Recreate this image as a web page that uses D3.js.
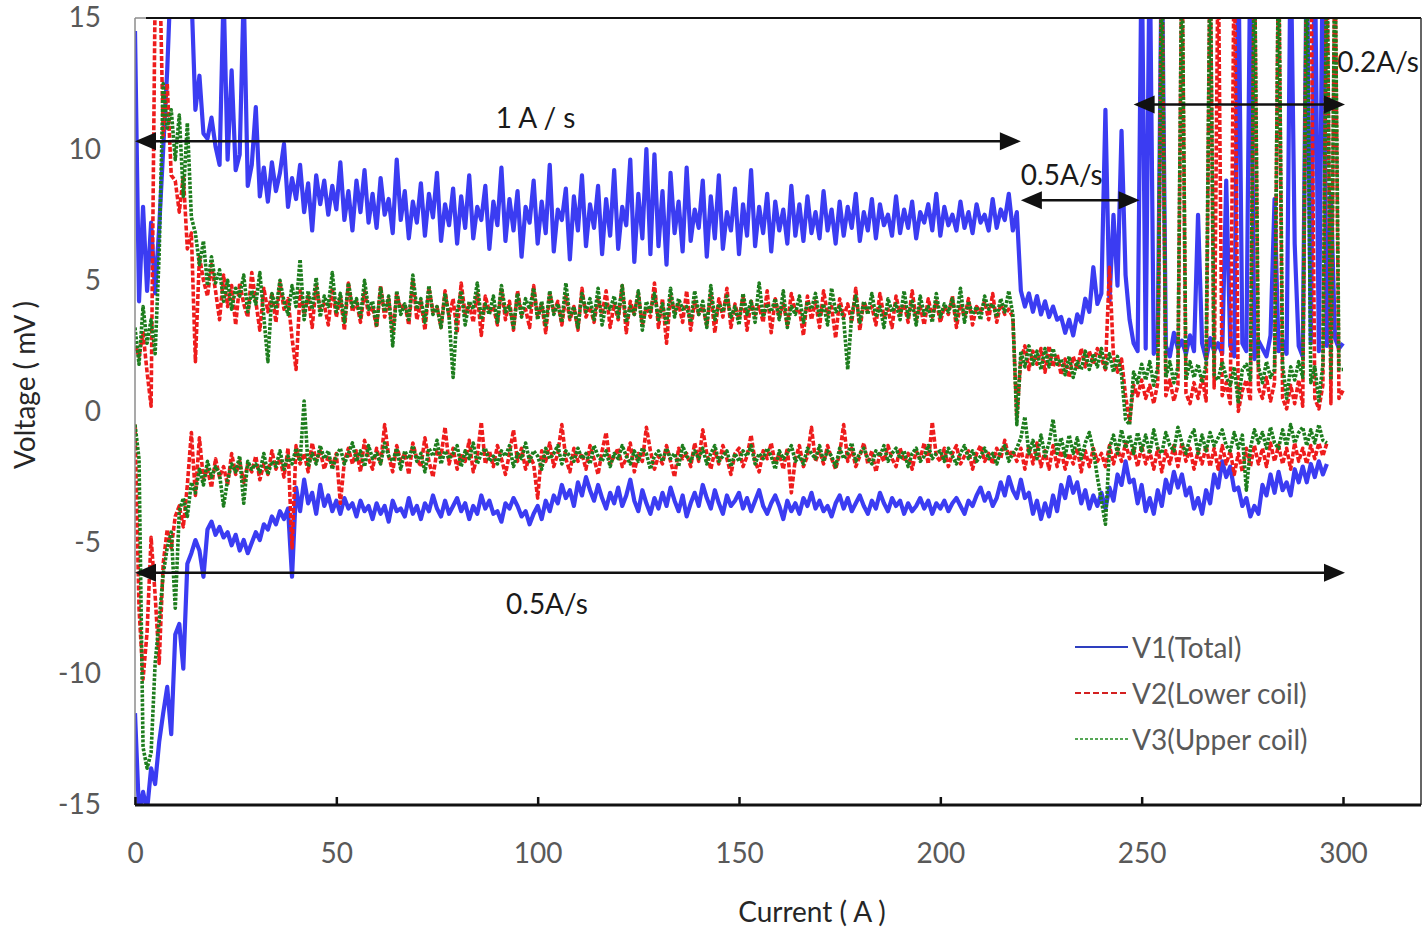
<!DOCTYPE html>
<html><head><meta charset="utf-8">
<script src="https://cdn.jsdelivr.net/npm/d3@7"></script>
<style>body{margin:0;background:#fff}svg{display:block}</style>
</head><body>
<script>
const currentStepA = 1;
const seriesNames = ["V1(Total)", "V2(Lower coil)", "V3(Upper coil)"];
const xTicks = [0, 50, 100, 150, 200, 250, 300];
const yTicks = [-15, -10, -5, 0, 5, 10, 15];

// ramp-up branch (upper traces), 0..300 A
const v1Up = [
14.5,4.2,7.8,4.6,7.2,4.5,7,10,13,17,
16,18,15.5,17,16,11.5,12.8,10.6,10.4,11.2,
10.1,9.4,16,9.6,13,9.2,9.8,16,8.6,9.4,
11.6,8.2,9.3,8.0,9.5,8.4,9.1,10.2,7.8,8.9,
8.1,9.4,7.6,8.7,6.9,9.0,7.9,8.8,7.5,8.6,
7.7,9.5,7.3,8.4,6.9,8.8,7.6,9.2,7.2,8.3,
7.0,8.9,7.5,8.1,6.8,9.6,7.3,8.4,6.6,8.0,
7.2,8.7,6.7,8.3,7.4,9.1,6.5,7.9,7.1,8.5,
6.4,8.2,7.0,9.0,6.6,7.8,7.3,8.6,6.2,8.0,
7.1,9.3,6.5,8.1,6.9,8.4,5.9,7.8,7.2,8.8,
6.4,8.0,6.8,9.4,6.1,7.7,7.3,8.5,5.8,8.2,
6.9,9.0,6.3,7.9,7.0,8.6,6.0,8.1,6.7,9.2,
6.2,7.8,7.1,9.6,5.7,8.3,6.6,10.0,6.0,9.8,
6.3,8.4,5.6,9.1,6.8,8.0,6.1,9.3,6.5,7.7,
7.0,8.8,5.9,8.2,6.6,9.0,6.2,7.6,6.9,8.5,
6.0,7.9,6.7,9.2,6.3,7.8,6.8,8.3,6.1,8.0,
6.9,7.7,6.4,8.6,6.7,7.9,6.5,8.2,6.8,7.6,
6.6,8.4,6.9,7.7,6.4,8.0,6.7,7.8,7.0,8.3,
6.5,7.6,6.9,8.1,6.6,7.9,7.1,7.5,6.7,8.2,
6.8,7.7,7.0,8.0,6.6,7.6,7.2,7.9,6.9,8.3,
6.7,7.8,7.1,7.5,6.9,8.0,7.0,7.6,6.8,7.9,
7.2,7.5,6.9,8.1,7.0,7.7,7.3,8.3,6.9,7.6,
4.6,4.0,4.5,3.8,4.4,3.7,4.2,3.6,4.0,3.5,
3.6,3.0,3.5,2.9,3.7,3.4,4.3,3.8,5.5,4.1,
4.5,11.5,4.2,7.5,4.8,10.7,5.2,3.5,2.6,2.3,
18,2.4,18,2.2,2.8,18,2.5,2.1,3.0,2.4,
2.7,2.2,2.9,2.3,7.5,2.6,2.0,2.8,2.3,2.6,
2.2,8.8,2.5,2.1,18,2.6,2.3,18,2.0,2.7,
2.4,2.1,2.9,8.1,2.3,2.7,2.2,18,6.4,2.5,
2.1,18,2.6,18,2.3,18,2.5,8.3,2.8,2.4,
2.6];
const v2Up = [
2.5,2.1,3.0,1.5,0.2,16,18,10.5,12.5,9.0,
8.8,7.6,9.0,6.2,6.8,1.9,5.9,5.0,4.4,5.6,
4.6,3.5,5.2,4.0,4.8,3.3,4.9,4.1,3.6,5.3,
4.2,3.1,4.7,3.8,4.5,3.4,4.9,3.9,4.3,2.8,
1.6,4.6,3.7,4.4,3.2,4.8,3.9,4.1,3.3,4.7,
3.6,4.4,3.1,4.9,3.8,4.2,3.4,4.6,3.7,4.0,
3.2,4.8,3.6,4.3,3.0,4.5,3.9,4.1,3.3,5.0,
3.5,4.2,3.1,4.7,3.8,4.0,3.2,4.6,3.6,4.3,
3.0,4.9,3.7,4.1,3.4,4.5,2.9,4.4,3.8,4.0,
3.3,4.7,3.5,4.2,3.1,4.6,3.7,3.9,3.2,4.8,
3.6,4.1,3.0,4.5,3.8,4.2,3.3,4.4,3.5,4.0,
3.1,4.7,3.6,4.0,3.4,4.3,3.7,4.6,3.2,4.1,
3.5,4.8,3.0,4.2,3.7,4.5,3.3,4.0,3.6,4.9,
3.2,4.3,2.6,4.4,3.8,4.1,3.4,4.6,3.1,4.2,
3.7,4.0,3.3,4.5,3.0,4.3,3.6,4.7,3.2,4.1,
3.5,4.4,3.1,4.2,3.7,4.0,3.4,4.6,3.0,4.3,
3.6,4.1,3.3,4.5,3.8,3.9,2.9,4.4,3.5,4.2,
3.2,4.6,3.7,4.0,2.8,4.3,3.6,4.1,3.4,4.7,
3.1,4.2,3.8,4.0,3.3,4.5,3.6,3.9,3.2,4.4,
3.7,4.1,3.4,4.6,3.5,4.0,3.3,4.3,3.6,4.2,
3.4,4.0,3.7,4.4,3.2,4.1,3.6,4.3,3.3,4.0,
3.8,4.2,3.5,4.5,3.4,4.1,3.7,3.9,3.6,-0.2,
2.0,2.5,1.6,2.3,1.8,2.4,1.5,2.5,1.7,2.2,
1.4,2.0,1.3,2.1,1.6,2.4,1.7,2.3,1.8,2.4,
2.0,1.6,5.5,2.1,1.5,2.0,0.6,-0.4,1.0,0.6,
1.2,0.5,1.0,0.3,1.1,18,0.6,1.2,0.4,1.0,
18,0.7,0.3,1.1,0.5,1.3,0.4,18,0.9,18,
0.6,1.1,0.3,18,0.0,0.8,1.2,0.4,18,0.9,
0.5,1.3,0.4,1.1,18,0.5,0.1,1.0,0.3,1.2,
0.2,18,18,0.5,0.1,1.0,18,0.3,18,0.5,
0.8];
const v3Up = [
3.2,1.8,4.0,2.6,3.5,2.2,6.0,12.5,10.8,11.5,
9.6,11.3,8.2,11.0,7.4,6.8,5.6,6.5,4.8,5.9,
4.9,5.4,4.2,5.0,3.9,4.7,4.4,5.2,3.8,4.6,
4.1,5.3,3.6,1.9,4.5,3.9,5.0,4.2,3.7,4.8,
4.0,5.8,3.5,4.6,3.9,5.1,3.6,4.4,4.0,5.3,
3.8,4.5,3.4,4.9,4.0,4.3,3.6,5.0,3.9,4.2,
3.3,4.7,3.8,4.4,2.5,4.6,3.7,4.1,3.5,5.2,
3.9,4.3,3.4,4.8,3.7,4.0,3.2,4.5,3.6,1.3,
3.8,4.6,3.3,4.2,3.9,4.9,3.5,4.1,3.7,4.4,
3.4,4.8,3.8,4.0,3.2,4.5,3.6,4.3,3.9,4.7,
3.5,4.2,3.3,4.6,3.7,4.1,3.4,4.9,3.6,4.0,
3.2,4.5,3.8,4.3,3.5,4.7,3.3,4.1,3.9,4.4,
3.6,4.8,3.4,4.0,3.7,4.6,3.1,4.2,3.8,4.5,
3.5,4.1,3.3,4.7,3.6,4.3,3.9,4.0,3.4,4.6,
3.7,4.2,3.2,4.8,3.5,4.1,3.8,4.4,3.6,4.0,
3.3,4.5,3.7,4.2,3.4,4.9,3.6,4.1,3.8,4.3,
3.5,4.6,3.2,4.0,3.7,4.4,3.4,4.2,3.9,4.5,
3.6,4.1,3.3,4.7,3.8,4.0,3.5,1.6,3.7,4.4,
3.4,4.2,3.7,4.5,3.6,4.0,3.2,4.3,3.8,4.1,
3.5,4.6,3.6,4.2,3.3,4.4,3.7,4.0,3.4,4.5,
3.6,4.1,3.8,4.3,3.5,4.7,3.4,4.2,3.7,4.0,
3.5,4.4,3.9,4.1,3.6,4.3,3.8,4.6,3.7,-0.5,
2.3,1.7,2.5,1.8,2.3,1.6,2.4,1.7,2.4,1.8,
2.0,1.4,2.1,1.3,1.9,1.6,2.3,1.6,2.2,1.7,
2.4,1.6,2.2,1.5,2.1,1.4,-0.3,-0.5,1.5,1.1,
1.8,1.2,1.9,1.0,1.7,18,1.3,1.9,1.1,1.7,
18,1.2,1.9,1.3,1.8,1.1,1.8,18,1.4,1.2,
1.9,1.3,1.0,1.7,0.3,1.6,1.8,1.2,18,1.7,
1.1,1.9,1.3,1.6,18,1.8,0.5,1.7,1.2,1.9,
1.3,18,1.1,1.7,0.4,1.8,18,1.2,18,1.6,
1.6];

// second branch (lower traces), 0..296 A
const v1Down = [
-11.5,-15.3,-14.5,-15.2,-13.6,-14.2,-12.6,-11.5,-10.5,-12.3,
-8.5,-8.1,-9.8,-5.8,-5.4,-4.9,-5.3,-6.3,-4.5,-4.2,
-4.7,-4.4,-4.8,-4.6,-5.1,-4.7,-5.3,-4.9,-5.4,-5.0,
-4.6,-4.9,-4.3,-4.5,-4.0,-4.3,-3.8,-4.1,-3.7,-6.3,
-2.9,-3.8,-2.6,-3.5,-3.1,-3.9,-2.8,-3.6,-3.2,-3.8,
-3.4,-3.9,-3.3,-3.7,-3.5,-4.0,-3.4,-3.8,-3.6,-4.1,
-3.5,-3.9,-3.6,-4.2,-3.4,-3.8,-3.7,-4.0,-3.3,-3.9,
-3.6,-4.1,-3.5,-3.8,-3.2,-3.7,-4.0,-3.4,-3.9,-3.6,
-3.3,-3.8,-3.5,-4.1,-3.6,-3.9,-3.2,-3.7,-3.4,-3.9,
-3.8,-4.2,-3.5,-3.7,-3.3,-3.6,-4.0,-3.8,-4.3,-3.9,
-3.6,-4.1,-3.4,-3.8,-3.2,-3.5,-2.8,-3.3,-3.0,-3.6,
-2.7,-3.2,-2.5,-3.0,-3.4,-2.8,-3.3,-3.7,-3.1,-3.5,
-2.9,-3.6,-3.2,-2.6,-3.4,-3.8,-3.0,-3.5,-3.9,-3.3,
-3.7,-3.1,-3.6,-2.9,-3.4,-3.8,-3.2,-4.0,-3.5,-3.1,
-3.6,-2.8,-3.3,-3.7,-3.0,-3.5,-3.9,-3.2,-3.6,-3.4,
-3.1,-3.7,-3.3,-3.8,-3.4,-3.0,-3.6,-3.9,-3.5,-3.2,
-3.6,-4.1,-3.4,-3.8,-3.5,-3.9,-3.3,-3.6,-3.1,-3.7,
-3.4,-3.8,-3.6,-4.0,-3.5,-3.2,-3.7,-3.3,-3.8,-3.5,
-3.2,-3.6,-3.9,-3.4,-3.7,-3.1,-3.5,-3.8,-3.3,-3.6,
-3.4,-3.9,-3.5,-3.8,-3.6,-3.3,-3.7,-3.4,-3.9,-3.5,
-3.7,-3.4,-3.8,-3.5,-3.3,-3.6,-3.9,-3.4,-3.6,-3.2,
-2.9,-3.4,-3.1,-3.6,-3.3,-2.7,-3.2,-2.5,-3.0,-3.3,
-2.6,-3.3,-3.1,-3.9,-3.4,-4.1,-3.5,-4.0,-3.2,-3.8,
-2.8,-3.3,-2.5,-3.1,-2.7,-3.5,-3.0,-3.7,-3.2,-3.6,
-3.1,-3.7,-2.9,-3.4,-2.4,-2.8,-1.9,-2.7,-2.6,-3.5,
-2.8,-3.8,-3.3,-3.9,-3.0,-3.6,-2.6,-3.1,-2.3,-2.9,
-2.4,-3.2,-2.9,-3.7,-3.3,-3.9,-3.0,-3.5,-2.4,-2.9,
-1.9,-2.5,-2.1,-3.0,-2.9,-3.6,-3.3,-4.0,-3.6,-3.9,
-2.8,-3.2,-2.4,-3.1,-2.3,-3.0,-2.7,-3.2,-2.2,-2.7,
-2.1,-2.7,-2.0,-2.5,-1.9,-2.4,-2.0];
const v2Down = [
-0.5,-7.5,-10.2,-8.4,-4.8,-7.0,-9.6,-5.8,-4.5,-5.2,
-4.0,-3.6,-4.4,-2.8,-0.8,-3.2,-1.0,-2.6,-2.2,-2.9,
-1.8,-2.5,-2.1,-2.8,-1.6,-2.4,-1.9,-2.7,-2.0,-2.3,
-1.7,-2.6,-2.0,-2.4,-1.5,-2.2,-1.8,-2.5,-1.4,-5.2,
-1.3,-2.0,-1.6,-2.3,-1.2,-1.9,-1.5,-2.2,-1.7,-2.1,
-1.6,-3.5,-1.9,-1.4,-2.0,-1.5,-2.3,-1.1,-1.8,-2.2,
-1.4,-2.0,-0.5,-1.7,-2.3,-1.3,-1.9,-1.6,-2.4,-1.2,
-1.8,-2.1,-1.0,-1.9,-2.5,-1.5,-1.7,-0.6,-2.0,-1.4,
-2.2,-1.6,-1.9,-1.1,-2.3,-1.7,-0.4,-2.0,-1.5,-2.1,
-1.3,-1.8,-2.4,-1.6,-0.7,-1.9,-1.4,-2.2,-1.7,-2.0,
-3.3,-1.5,-1.9,-1.2,-2.1,-1.6,-0.5,-1.8,-2.3,-1.4,
-1.9,-1.6,-2.2,-1.3,-1.8,-2.4,-1.5,-0.8,-2.0,-1.7,
-1.4,-2.1,-1.8,-1.2,-2.3,-1.6,-1.9,-0.6,-1.5,-2.2,
-1.7,-2.0,-1.3,-1.9,-2.5,-1.4,-1.8,-1.6,-2.1,-1.2,
-1.9,-0.7,-1.6,-2.2,-1.5,-2.0,-1.3,-1.8,-2.4,-1.6,
-1.4,-2.1,-1.7,-0.9,-1.9,-2.3,-1.5,-1.8,-1.2,-2.0,
-1.6,-2.2,-1.4,-3.1,-1.8,-1.3,-2.1,-1.7,-0.6,-1.9,
-1.5,-2.0,-1.3,-1.8,-2.2,-1.6,-0.5,-1.9,-1.4,-2.1,
-1.7,-1.2,-2.0,-1.5,-2.3,-1.6,-1.9,-1.3,-1.8,-2.1,
-1.4,-1.9,-1.6,-2.2,-1.5,-1.8,-1.2,-2.0,-0.4,-1.7,
-1.9,-1.4,-2.1,-1.6,-1.3,-2.0,-1.7,-1.5,-2.2,-1.6,
-1.3,-1.9,-1.6,-2.0,-1.4,-1.8,-1.1,-1.7,-1.5,-1.9,
-1.4,-2.2,-1.3,-2.0,-1.2,-2.1,-1.5,-2.2,-1.3,-2.1,
-1.5,-2.2,-1.6,-2.0,-1.4,-2.3,-1.5,-2.1,-1.4,-1.9,
-1.6,-2.1,-1.3,-2.0,-1.4,-1.9,-1.2,-1.8,-1.4,-2.1,
-1.3,-2.0,-1.5,-2.2,-1.4,-2.3,-1.5,-2.0,-1.3,-2.1,
-1.2,-1.9,-1.4,-2.2,-1.5,-2.0,-1.3,-2.1,-1.4,-2.2,
-1.3,-2.0,-1.5,-2.4,-1.6,-2.3,-1.4,-2.1,-1.3,-2.0,
-1.4,-2.1,-1.2,-1.9,-1.3,-2.0,-1.4,-2.2,-1.2,-1.9,
-1.4,-2.0,-1.3,-1.8,-1.2,-1.7,-1.2];
const v3Down = [
-0.5,-1.8,-12.8,-13.6,-13.0,-9.6,-8.0,-6.2,-5.2,-4.6,
-7.5,-3.8,-3.3,-4.0,-2.7,-3.1,-2.2,-2.8,-1.9,-2.5,
-2.1,-2.4,-3.6,-2.6,-2.0,-2.3,-1.7,-3.5,-1.9,-2.2,
-2.0,-2.3,-1.6,-2.4,-1.9,-2.1,-1.5,-2.2,-1.7,-2.0,
-1.4,-1.9,0.4,-2.1,-1.6,-2.0,-1.3,-1.8,-1.5,-2.2,
-1.7,-1.4,-2.0,-1.6,-1.2,-1.9,-1.5,-2.1,-1.3,-1.8,
-1.6,-2.0,-1.2,-1.7,-1.9,-1.4,-2.2,-1.5,-1.8,-1.3,
-1.9,-1.6,-2.3,-1.4,-1.7,-1.1,-2.0,-1.5,-1.8,-1.6,
-1.3,-2.1,-1.5,-1.8,-1.2,-2.0,-1.6,-1.4,-1.9,-1.7,
-2.0,-1.5,-1.7,-1.3,-2.1,-1.6,-1.8,-1.2,-1.9,-1.5,
-1.7,-2.2,-1.4,-1.8,-1.6,-1.3,-2.0,-1.5,-1.7,-1.9,
-1.4,-1.8,-1.6,-2.0,-1.3,-1.7,-1.9,-1.5,-2.1,-1.6,
-1.8,-1.3,-1.7,-2.0,-1.5,-1.9,-1.4,-1.6,-2.2,-1.7,
-1.5,-1.9,-1.4,-1.8,-1.6,-2.1,-1.3,-1.7,-1.9,-1.5,
-1.8,-1.4,-2.0,-1.6,-1.3,-1.9,-1.7,-1.5,-2.1,-1.6,
-1.9,-1.5,-1.7,-1.3,-2.0,-1.6,-1.8,-1.4,-1.7,-2.2,
-1.5,-1.8,-1.6,-1.3,-1.9,-1.7,-2.0,-1.4,-1.6,-1.8,
-1.3,-1.9,-1.5,-1.7,-2.1,-1.4,-1.8,-1.6,-1.2,-1.9,
-1.6,-1.4,-1.8,-2.0,-1.5,-1.7,-1.3,-1.9,-1.6,-1.4,
-1.8,-1.5,-2.1,-1.6,-1.4,-1.9,-1.7,-1.3,-1.8,-1.6,
-1.5,-1.9,-1.4,-1.7,-2.0,-1.6,-1.3,-1.8,-1.5,-1.9,
-1.7,-1.4,-1.8,-1.6,-2.0,-1.5,-1.3,-1.9,-1.6,-1.4,
-1.0,-0.2,-1.6,-1.1,-1.8,-0.9,-1.7,-1.2,-0.3,-1.6,
-1.0,-1.7,-0.9,-1.6,-1.0,-1.8,-1.2,-0.8,-1.5,-2.5,
-3.4,-4.3,-1.4,-0.9,-1.6,-0.7,-1.4,-0.9,-1.6,-0.8,
-1.5,-0.9,-1.6,-0.7,-1.4,-1.6,-0.8,-1.3,-1.5,-0.6,
-1.2,-1.6,-1.0,-0.7,-1.6,-0.9,-1.5,-0.8,-1.3,-1.0,
-0.7,-1.3,-1.5,-0.8,-1.4,-0.9,-3.0,-1.4,-0.7,-1.2,
-0.8,-1.4,-0.6,-1.2,-1.4,-0.7,-1.3,-0.5,-1.2,-0.8,
-0.6,-1.3,-0.7,-1.2,-0.5,-1.1,-1.2];

// ramp-rate annotations (current range in A, level in mV)
const rateLabels = ["1 A / s", "0.5A/s", "0.2A/s", "0.5A/s"];
const rateFrom   = [0, 220, 248, 0];
const rateTo     = [220, 249.5, 300.5, 300.5];
const rateLevel  = [10.3, 8.05, 11.7, -6.15];

// ---------------- drawing ----------------
const W = 1424, H = 929;
const FONT = "Lato, 'Open Sans', sans-serif";
const svg = d3.select("body").append("svg").attr("width", W).attr("height", H);

const x = d3.scaleLinear().domain([0, 300]).range([135, 1343]);
const y = d3.scaleLinear().domain([-15, 15]).range([805, 18]);
const frameRight = 1421;

const colors = ["#3b3cf2", "#ee1c1c", "#1d7d1d"];
const dashes = [null, "5,2", "3,1.5"];
const widths = [4.2, 3.6, 3.6];

svg.append("clipPath").attr("id", "plotClip").append("rect")
  .attr("x", x(0)).attr("y", y(15)).attr("width", frameRight - x(0)).attr("height", y(-15) - y(15));

const line = d3.line()
  .defined(d => d != null)
  .x((d, i) => x(i * currentStepA))
  .y(d => y(d));

const plot = svg.append("g").attr("clip-path", "url(#plotClip)");
const traces = [
  [v1Down, 0], [v1Up, 0],
  [v2Down, 1], [v2Up, 1],
  [v3Down, 2], [v3Up, 2]
];
traces.forEach(([vals, k]) => {
  plot.append("path")
    .attr("d", line(vals))
    .attr("fill", "none")
    .attr("stroke", colors[k])
    .attr("stroke-width", widths[k])
    .attr("stroke-dasharray", dashes[k])
    .attr("stroke-linejoin", "round");
});

// frame
svg.append("line").attr("x1", x(0)).attr("x2", x(0)).attr("y1", y(15)).attr("y2", y(-15))
  .attr("stroke", "#8c8c8c").attr("stroke-width", 1.5);
svg.append("line").attr("x1", x(0)).attr("x2", 146).attr("y1", y(15)).attr("y2", y(15))
  .attr("stroke", "#8c8c8c").attr("stroke-width", 1.5);
svg.append("line").attr("x1", 146).attr("x2", frameRight).attr("y1", y(15)).attr("y2", y(15))
  .attr("stroke", "#111").attr("stroke-width", 2);
svg.append("line").attr("x1", frameRight).attr("x2", frameRight).attr("y1", y(15)).attr("y2", y(-15))
  .attr("stroke", "#333").attr("stroke-width", 1.5);

// x axis
const xAxis = d3.axisBottom(x).tickValues(xTicks).tickFormat(d => String(d))
  .tickSizeInner(-8).tickSizeOuter(0).tickPadding(38);
const gx = svg.append("g").attr("transform", `translate(0,${y(-15)})`).call(xAxis);
gx.select(".domain").remove();
gx.append("line").attr("x1", x(0)).attr("x2", frameRight).attr("y1", 0).attr("y2", 0)
  .attr("stroke", "#111").attr("stroke-width", 3);
gx.selectAll(".tick line").attr("stroke", "#111").attr("stroke-width", 2.5);
gx.selectAll(".tick text").attr("fill", "#595959").attr("font-size", 28).attr("font-family", FONT);

// y axis labels (no tick marks)
const yAxis = d3.axisLeft(y).tickValues(yTicks).tickFormat(d => String(d)).tickSize(0).tickPadding(34);
const gy = svg.append("g").attr("transform", `translate(${x(0)},0)`).call(yAxis);
gy.select(".domain").remove();
gy.selectAll(".tick text").attr("fill", "#595959").attr("font-size", 28).attr("font-family", FONT);

// axis titles
svg.append("text").attr("x", 812).attr("y", 922).attr("text-anchor", "middle")
  .attr("font-family", FONT).attr("font-size", 28).attr("fill", "#262626")
  .text("Current ( A )");
svg.append("text").attr("transform", "translate(35,385) rotate(-90)").attr("text-anchor", "middle")
  .attr("font-family", FONT).attr("font-size", 28).attr("fill", "#262626")
  .text("Voltage ( mV )");

// rate arrows
function arrowHead(px, py, dir) {
  const L = 21, Hh = 9;
  return `M${px},${py} L${px - dir * L},${py - Hh} L${px - dir * L},${py + Hh} Z`;
}
const annoG = svg.append("g");
rateLabels.forEach((lab, i) => {
  const x0 = x(rateFrom[i]), x1 = x(rateTo[i]), yy = y(rateLevel[i]);
  annoG.append("line").attr("x1", x0 + 10).attr("x2", x1 - 10).attr("y1", yy).attr("y2", yy)
    .attr("stroke", "#111").attr("stroke-width", 2.5);
  annoG.append("path").attr("d", arrowHead(x0, yy, -1)).attr("fill", "#111");
  annoG.append("path").attr("d", arrowHead(x1, yy, 1)).attr("fill", "#111");
});
const annoText = (t, px, py, anchor) => svg.append("text").attr("x", px).attr("y", py)
  .attr("text-anchor", anchor).attr("dominant-baseline", "central")
  .attr("font-family", FONT).attr("font-size", 28).attr("fill", "#1a1a1a").text(t);
annoText(rateLabels[0], x(99.5), y(rateLevel[0]) - 24, "middle");
annoText(rateLabels[1], x(rateFrom[1]), y(rateLevel[1]) - 26, "start");
annoText(rateLabels[2], frameRight - 2, y(rateLevel[2]) - 44, "end");
annoText(rateLabels[3], x(102.3), y(rateLevel[3]) + 30, "middle");

// legend
const legendG = svg.append("g");
const legendColors = ["#2e3fbf", "#d42020", "#1f8a1f"];
const legendDash = [null, "6,3", "3,2"];
const legendW = [2.2, 2.2, 1.6];
seriesNames.forEach((name, i) => {
  const ly = 647 + i * 46;
  legendG.append("line").attr("x1", 1075).attr("x2", 1128).attr("y1", ly).attr("y2", ly)
    .attr("stroke", legendColors[i]).attr("stroke-width", legendW[i]).attr("stroke-dasharray", legendDash[i]);
  legendG.append("text").attr("x", 1132).attr("y", ly).attr("dominant-baseline", "central")
    .attr("font-family", FONT).attr("font-size", 28).attr("fill", "#595959").text(name);
});
</script>
</body></html>
